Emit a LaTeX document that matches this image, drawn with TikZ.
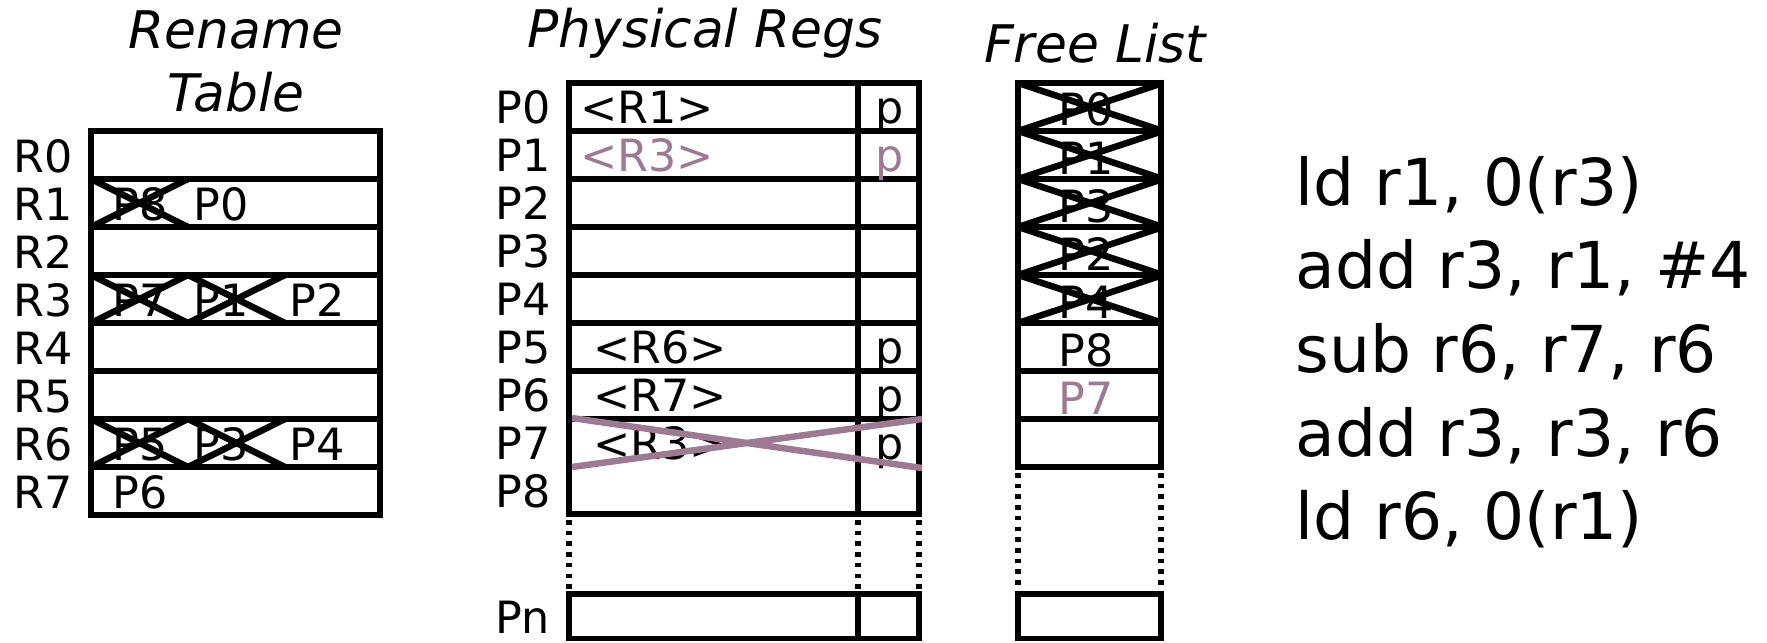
\documentclass[tikz,border=0pt]{standalone}
\usepackage{fontspec}
\setmainfont{DejaVu Sans}
\usetikzlibrary{positioning}
\definecolor{stale}{RGB}{158,122,146}

\begin{document}
\begin{tikzpicture}[x=0.02cm,y=-0.02cm,
  tab/.style={line width=3.1pt},
  xout/.style={line width=3.7pt},
  dots/.style={line width=3pt,dash pattern=on 2.6pt off 3.5pt},
  lbl/.style={font=\fontsize{25.3}{30}\selectfont,inner sep=0,anchor=base west},
  ent/.style={font=\fontsize{25.3}{30}\selectfont,inner sep=0,anchor=base},
  ttl/.style={font=\fontsize{29.5}{35}\selectfont\itshape,inner sep=0,anchor=base},
  instr/.style={font=\fontsize{36.8}{44}\selectfont,inner sep=0,anchor=base west}]
\useasboundingbox (0,0) rectangle (1767,642);
% rename table
\node[ttl] (rt1) at (236,49) {Rename};
\node[ttl] (rt2) at (236,112) {Table};
\draw[tab] (91,131) rectangle (380,515);
\foreach \y in {179,227,...,467}
  \draw[tab] (91,\y) -- (380,\y);
\foreach \i in {0,...,7}
  \node[lbl] (r\i) at (13,{172+48*\i}) {R\i};
\node[lbl] (m1a) at (112,220) {P8};
\node[lbl] (m1b) at (193,220) {P0};
\node[lbl] (m3a) at (112,316) {P7};
\node[lbl] (m3b) at (193,316) {P1};
\node[lbl] (m3c) at (289,316) {P2};
\node[lbl] (m6a) at (112,460) {P5};
\node[lbl] (m6b) at (193,460) {P3};
\node[lbl] (m6c) at (289,460) {P4};
\node[lbl] (m7a) at (112,508) {P6};
% old mappings crossed out
\foreach \x/\y in {91/179,91/275,188/275,91/419,188/419} {
  \draw[xout] (\x,\y) -- (\x+97,\y+48);
  \draw[xout] (\x,\y+48) -- (\x+97,\y);
}
% physical registers
\node[ttl] (pt) at (705,48) {Physical Regs};
\draw[tab] (569,83) rectangle (919,514);
\foreach \y in {131,179,...,466}
  \draw[tab] (569,\y) -- (919,\y);
\draw[tab] (858,83) -- (858,514);
\foreach \x in {569,858,919}
  \draw[dots] (\x,520) -- (\x,590);
\draw[tab] (569,594) rectangle (919,638.5);
\draw[tab] (858,594) -- (858,638.5);
\foreach \i in {0,...,8}
  \node[lbl] (p\i) at (495,{123+48*\i}) {P\i};
\node[lbl] (pn) at (495,633) {Pn};
\node[lbl] (v0) at (580,123) {<R1>};
\node[lbl,text=stale] (v1) at (580,171) {<R3>};
\node[lbl] (v5) at (593,363) {<R6>};
\node[lbl] (v6) at (593,411) {<R7>};
\node[lbl] (v7) at (593,459) {<R3>};
\node[ent] (b0) at (890,123) {p};
\node[ent,text=stale] (b1) at (890,171) {p};
\node[ent] (b5) at (890,363) {p};
\node[ent] (b6) at (890,411) {p};
\node[ent] (b7) at (890,459) {p};
% P7 freed again
\draw[xout,stale] (572,418) -- (922,468);
\draw[xout,stale] (572,467) -- (922,419);
% free list
\node[ttl] (ft) at (1095,63) {Free List};
\draw[tab] (1018,83) rectangle (1161,467);
\foreach \y in {131,179,...,419}
  \draw[tab] (1018,\y) -- (1161,\y);
\foreach \x in {1018,1161}
  \draw[dots] (\x,473) -- (\x,590);
\draw[tab] (1018,594) rectangle (1161,638.5);
\foreach \n [count=\i from 0] in {P0,P1,P3,P2,P4,P8}
  \node[ent] (f\i) at (1086,{126+48*\i}) {\n};
\node[ent,text=stale] (f6) at (1086,414) {P7};
\foreach \y in {83,131,...,275} {
  \draw[xout] (1018,\y) -- (1163,\y+48);
  \draw[xout] (1018,\y+48) -- (1163,\y);
}
% instruction sequence
\foreach \t [count=\i from 0] in {ld r1{,} 0(r3),add r3{,} r1{,} \#4,sub r6{,} r7{,} r6,add r3{,} r3{,} r6,ld r6{,} 0(r1)}
  \node[instr] (c\i) at (1295,{205+83.7*\i}) {\t};
\end{tikzpicture}
\end{document}
